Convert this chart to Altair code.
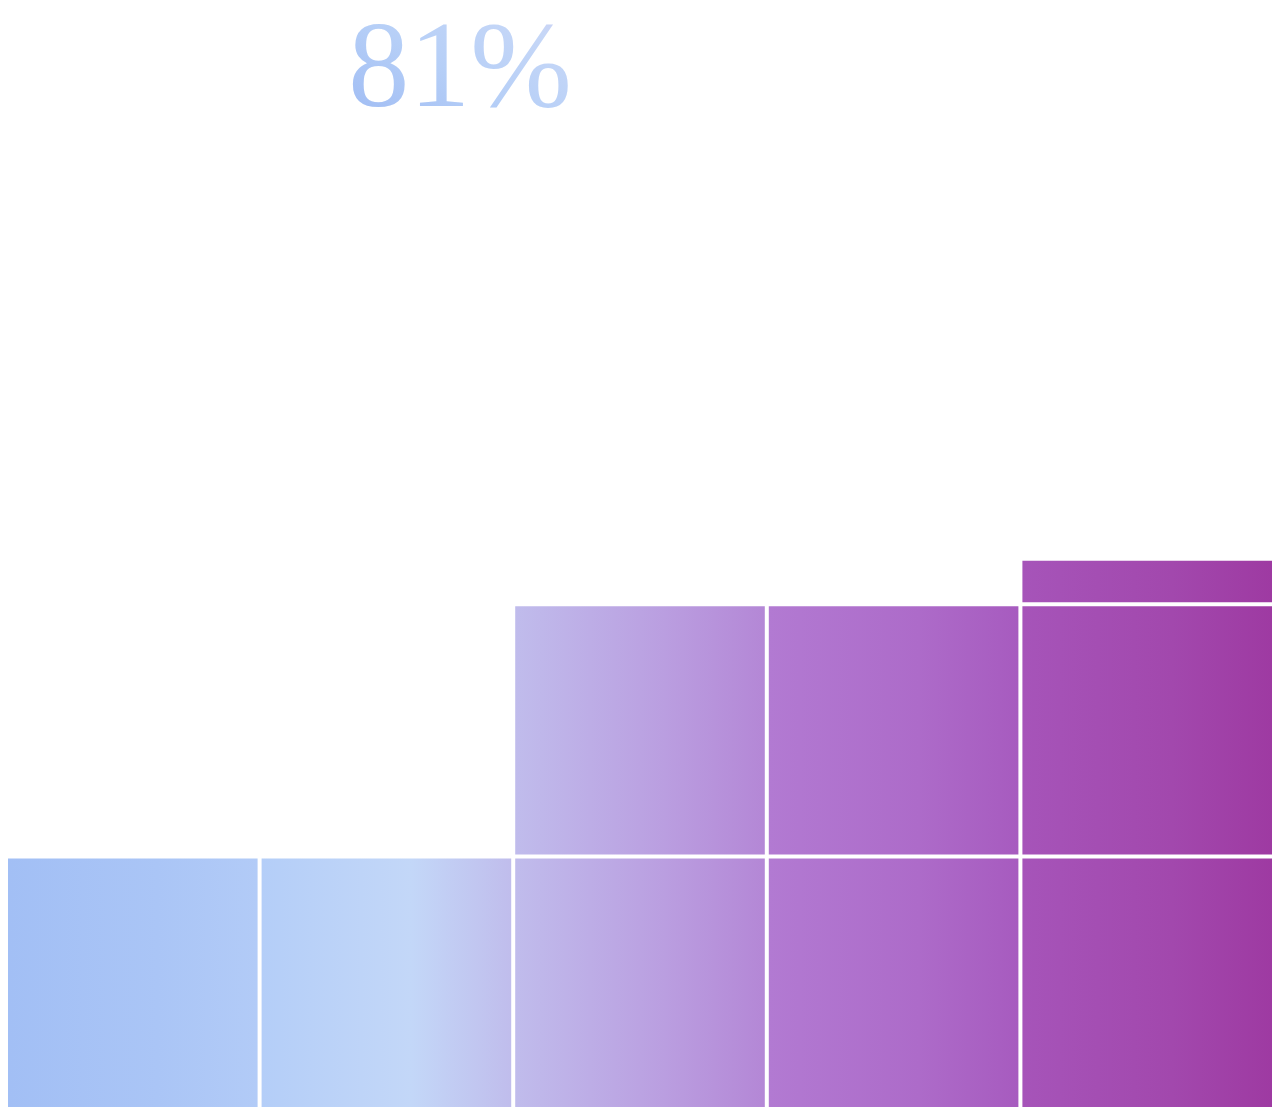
import altair as alt
import pandas as pd

# ---- data ----
columns = [1, 2, 3, 4, 5]
column_values = [1.0, 1.0, 2.0, 2.0, 2.18]   # squares stacked per column
headline = ["81%"]

# per-column horizontal gradient colours (left, middle, right)
grad_left = ["#a2bff5", "#b4cef8", "#c0bcec", "#b27ad2", "#a654b9"]
grad_mid = ["#aac5f6", "#c3d7f8", "#ba9ee0", "#ad6bc9", "#a248ad"]
grad_right = ["#b2cbf7", "#c0bdec", "#b487d6", "#a75bbf", "#9e3aa2"]

# build one row per cell of the stacked squares
rows = []
for c, v in zip(columns, column_values):
    r = 0
    while v - r > 1e-9:
        top = min(r + 1, v)
        rows.append({"col": c, "bottom": r, "top": top})
        r += 1
cells = pd.DataFrame(rows)

W, H = 1264, 1099
unit = 254.0
ymin = 2.0 / unit
ymax = ymin + H / unit

layers = []
for i, c in enumerate(columns):
    grad = alt.Gradient(
        gradient="linear",
        stops=[
            alt.GradientStop(color=grad_left[i], offset=0),
            alt.GradientStop(color=grad_mid[i], offset=0.6),
            alt.GradientStop(color=grad_right[i], offset=1),
        ],
        x1=0, x2=1, y1=0, y2=0,
    )
    layer = (
        alt.Chart(cells)
        .transform_filter(alt.datum.col == c)
        .mark_rect(color=grad, yOffset=-2, y2Offset=2)
        .encode(
            x=alt.X("col:O", axis=None,
                    scale=alt.Scale(domain=columns, paddingInner=4 / 253.6, paddingOuter=0)),
            y=alt.Y("bottom:Q", axis=None, scale=alt.Scale(domain=[ymin, ymax], nice=False, zero=False)),
            y2="top:Q",
        )
    )
    layers.append(layer)

text_grad = alt.Gradient(
    gradient="linear",
    stops=[
        alt.GradientStop(color="#9cb9f3", offset=0),
        alt.GradientStop(color="#b6cff7", offset=0.45),
        alt.GradientStop(color="#c6d7f7", offset=0.8),
        alt.GradientStop(color="#d2cbee", offset=1),
    ],
    x1=0, x2=1, y1=1, y2=0,
)

title = (
    alt.Chart(pd.DataFrame({"label": headline}))
    .mark_text(font="Liberation Serif", fontSize=122, align="center",
               baseline="alphabetic", color=text_grad)
    .encode(x=alt.value(452), y=alt.value(91), text="label:N")
)

chart = (
    alt.layer(*layers, title)
    .properties(width=W, height=H, background="white",
                padding=0,
                autosize=alt.AutoSizeParams(type="fit", contains="padding"))
    .configure_view(stroke=None)
)

chart.save("out.html", embed_options={"renderer": "svg", "actions": False})
